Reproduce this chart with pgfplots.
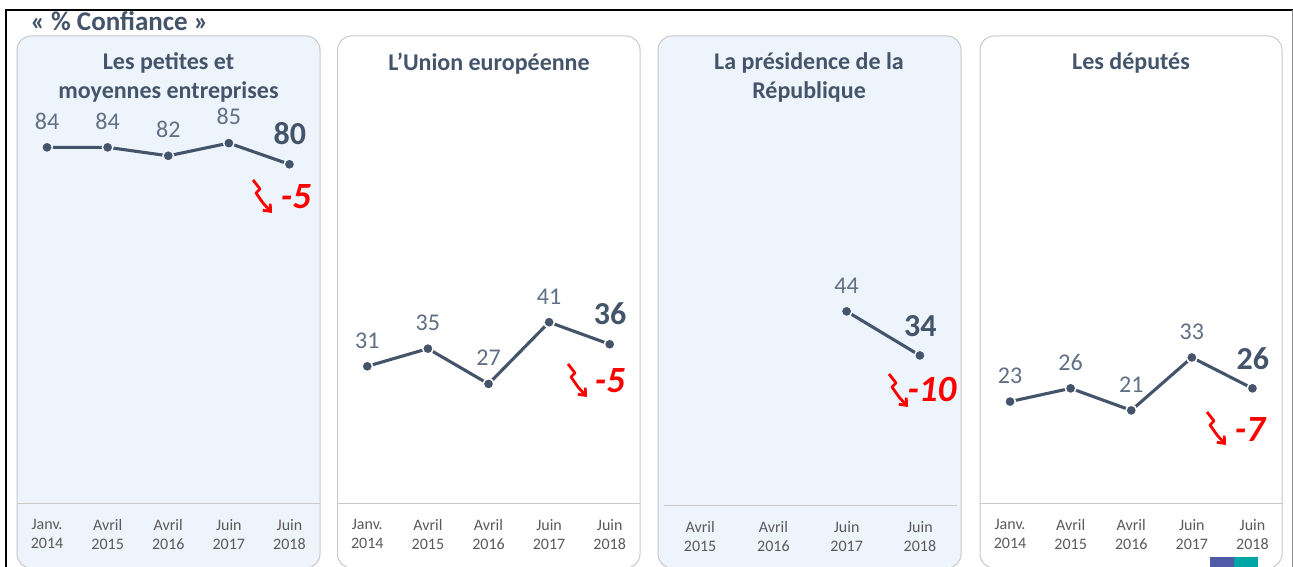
\documentclass[border=0pt]{standalone}
\usepackage{pgfplots}
\pgfplotsset{compat=1.18}
\usepackage{fontspec}
\setmainfont{Carlito}
\usetikzlibrary{arrows.meta}
\definecolor{panelblue}{HTML}{EDF4FB}
\definecolor{linec}{HTML}{44546A}
\definecolor{labc}{HTML}{5F6F84}
\definecolor{tickc}{HTML}{5A5A5A}
\definecolor{bord}{HTML}{C9C9C9}
\pgfplotsset{
  panel/.style={
    anchor=south west, scale only axis, clip=false,
    width=303pt, height=467pt,
    xmin=-0.5, xmax=4.5, ymin=0, ymax=105.9,
    axis y line=none, axis x line*=bottom,
    axis line style={-,draw=bord,line width=0.9pt},
    xtick={0,1,2,3,4}, major tick length=0pt,
    xticklabels={Janv.\\2014,Avril\\2015,Avril\\2016,Juin\\2017,Juin\\2018},
    xticklabel style={align=center,font=\fontsize{16}{19}\selectfont,text=tickc,yshift=-12.5pt},
  },
  ser/.style={color=linec,line width=3.1pt,mark=*,mark size=5.3pt,
    mark options={draw=#1,line width=1.5pt,fill=linec,solid},
    point meta=explicit symbolic,
    nodes near coords,
    every node near coord/.append style={font=\fontsize{24}{24}\selectfont,text=labc,anchor=south,yshift=14pt}},
  last/.style={only marks,color=linec,mark=*,mark size=5.3pt,
    mark options={draw=#1,line width=1.5pt,fill=linec},
    point meta=explicit symbolic,
    nodes near coords,
    every node near coord/.append style={font=\bfseries\fontsize{32}{32}\selectfont,text=linec,anchor=south,xshift=0.5pt,yshift=15pt}},
  seg/.style={color=linec,line width=3.1pt,forget plot},
}
\newcommand{\squig}[2]{% top-left px
  \begin{scope}[shift={(#1,567-#2)}]
  \draw[red,line width=2.8pt,line join=round,-{Straight Barb[length=6pt,width=10pt]}]
    (0,0)--(7,-9)--(3,-13)--(10,-23)--(19,-33);
  \end{scope}}
\begin{document}
\begin{tikzpicture}
\clip (0,0) rectangle (1293pt,567pt);
\begin{scope}[x=1pt,y=1pt]
\fill[white] (0,0) rectangle (1293,567);
% frame
\draw[black,line width=2pt] (6,-5)--(6,557)--(1293,557);
\draw[black!45,line width=0.8pt] (1292,557)--(1292,-5);
\node[anchor=west,font=\bfseries\fontsize{27}{27}\selectfont,text=linec] at (27,546) {« \% Confiance »};
% panels
\draw[bord,fill=panelblue,line width=1pt,rounded corners=14pt] (17,-1) rectangle (320,531);
\draw[bord,fill=white,line width=1pt,rounded corners=14pt] (337.5,-1) rectangle (640,531);
\draw[bord,fill=panelblue,line width=1pt,rounded corners=14pt] (658,-1) rectangle (961,531);
\draw[bord,fill=white,line width=1pt,rounded corners=14pt] (980,-1) rectangle (1282,531);
% logo
\fill[fill={rgb,255:red,79;green,91;blue,167}] (1210,-3) rectangle (1234,10);
\fill[fill={rgb,255:red,0;green,166;blue,166}] (1234,-3) rectangle (1258,10);
\end{scope}
% panel 1
\begin{axis}[panel, at={(16.75pt,64pt)}, ymax=110.3]
\addplot[seg] coordinates {(0,84) (1,84) (2,82) (3,85) (4,80)};
\addplot[only marks,ser=panelblue] coordinates {(0,84)[84] (1,84)[84] (2,82)[82] (3,85)[85]};
\addplot[last=panelblue] coordinates {(4,80)[80]};
\end{axis}
% panel 2
\begin{axis}[panel, at={(337pt,64pt)}]
\addplot[seg] coordinates {(0,31) (1,35) (2,27) (3,41) (4,36)};
\addplot[only marks,ser=white] coordinates {(0,31)[31] (1,35)[35] (2,27)[27] (3,41)[41]};
\addplot[last=white] coordinates {(4,36)[36]};
\end{axis}
% panel 3
\begin{axis}[panel, at={(663.5pt,61.5pt)}, width=293pt, height=469.5pt, xmax=3.5, ymax=106.4,
  xtick={0,1,2,3}, xticklabels={Avril\\2015,Avril\\2016,Juin\\2017,Juin\\2018}]
\addplot[seg] coordinates {(2,44) (3,34)};
\addplot[only marks,ser=panelblue] coordinates {(2,44)[44]};
\addplot[last=panelblue] coordinates {(3,34)[34]};
\end{axis}
% panel 4
\begin{axis}[panel, at={(979.75pt,64pt)}]
\addplot[seg] coordinates {(0,23) (1,26) (2,21) (3,33) (4,26)};
\addplot[only marks,ser=white] coordinates {(0,23)[23] (1,26)[26] (2,21)[21] (3,33)[33]};
\addplot[last=white] coordinates {(4,26)[26]};
\end{axis}
\begin{scope}[x=1pt,y=1pt]
% titles
\tikzset{ttl/.style={font=\bfseries\fontsize{24}{29}\selectfont,text=linec,align=center,anchor=north}}
\node[ttl] at (168.5,517.5) {Les petites et\\moyennes entreprises};
\node[ttl] at (489,517.5) {L’Union européenne};
\node[ttl] at (809,517.5) {La présidence de la\\République};
\node[ttl] at (1131,517.5) {Les députés};
% deltas
\tikzset{dlt/.style={font=\bfseries\itshape\fontsize{37}{37}\selectfont,text=red,anchor=center}}
\squig{253}{180}\node[dlt] at (296,370) {-5};
\squig{568}{364}\node[dlt] at (610,186) {-5};
\squig{889}{374}\node[dlt] at (932,177) {-10};
\squig{1207}{412}\node[dlt] at (1250,137) {-7};
\end{scope}
\end{tikzpicture}
\end{document}
